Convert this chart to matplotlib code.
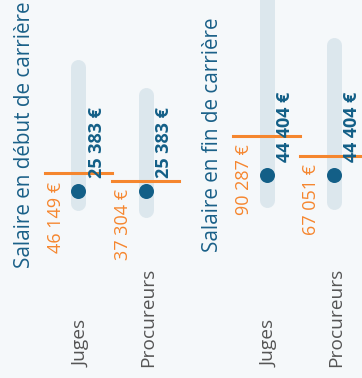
import matplotlib.pyplot as plt
from matplotlib.transforms import blended_transform_factory, offset_copy

plt.rcParams['font.family'] = ['Open Sans', 'DejaVu Sans']

titres = ['Salaire en début de carrière', 'Salaire en fin de carrière']
categories = ['Juges', 'Procureurs']

# salaire median (point bleu) et salaire des magistrats (trait orange)
median = [[25383, 25383], [44404, 44404]]
magistrats = [[46149, 37304], [90287, 67051]]
# etendue de la barre grise
barre_bas = [[11000, 3200], [15300, 13000]]
barre_haut = [[170700, 137500], [260000, 195900]]

def fmt(v):
    return f"{v:,}".replace(',', ' ') + ' €'

bleu = '#135f87'
orange = '#f5862e'
gris_barre = '#dce7ed'
fond = '#f5f8fa'

W, H = 362, 378
fig = plt.figure(figsize=(W / 100, H / 100), dpi=100, facecolor=fond)

largeur = 188
for p in range(2):
    ax = fig.add_axes([p * largeur / W, 0, largeur / W, 1])
    ax.set_facecolor(fond)
    ax.patch.set_alpha(0)
    ax.set_xlim(-78.5 / 67, (largeur - 78.5) / 67)
    ax.set_ylim(-(H - 212.9) / 0.000856, 212.9 / 0.000856)
    ax.axis('off')

    trans = blended_transform_factory(ax.transData, ax.transAxes)
    trans = offset_copy(trans, fig=fig, x=3, y=0, units='dots')
    for i, cat in enumerate(categories):
        ax.plot([i, i], [barre_bas[p][i], barre_haut[p][i]], color=gris_barre,
                lw=10.8, solid_capstyle='round', zorder=1)
        ax.plot(i, median[p][i], 'o', color=bleu, ms=10.8, mec='none', zorder=3)
        ax.plot([i - 0.5, i + 0.5], [magistrats[p][i]] * 2, color=orange,
                lw=2.2, zorder=4)
        ax.annotate(fmt(magistrats[p][i]), (i, magistrats[p][i]),
                    xytext=(-16, -5.8), textcoords='offset points',
                    rotation=90, ha='center', va='top', color=orange, fontsize=13)
        ax.annotate(fmt(median[p][i]), (i, median[p][i]),
                    xytext=(13, 9.4), textcoords='offset points',
                    rotation=90, ha='center', va='bottom', color=bleu,
                    fontsize=13, fontweight='bold', zorder=5)
        ax.text(i, 11 / H, cat, transform=trans, rotation=90, ha='center',
                va='bottom', color='#555555', fontsize=13.8)

    ax.text(25 / largeur, 1 - 135 / H, titres[p], transform=ax.transAxes,
            rotation=90, ha='center', va='center', color='#1a6088', fontsize=14.9)

fig.savefig('out.png', dpi=100, facecolor=fond)
